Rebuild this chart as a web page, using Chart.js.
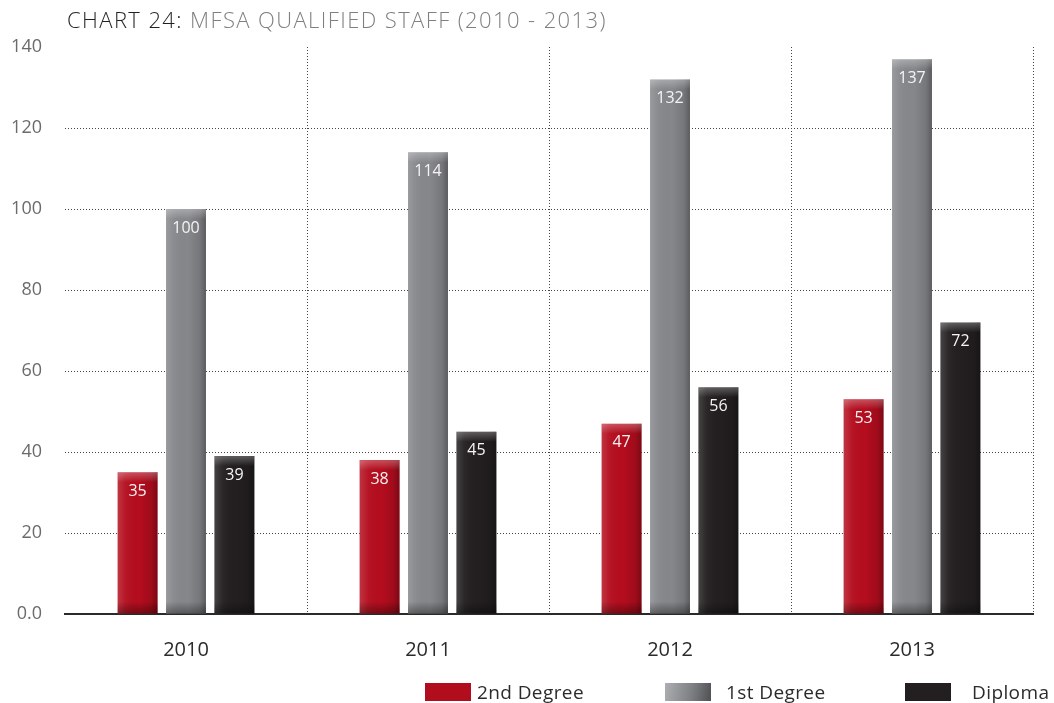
<!DOCTYPE html>
<html>
<head>
<meta charset="utf-8">
<script src="https://cdn.jsdelivr.net/npm/chart.js@4.4.1/dist/chart.umd.min.js"></script>
<style>
  body { margin: 0; background: #fff; font-family: "Open Sans", "Noto Sans", sans-serif; }
  .wrap { position: relative; width: 1054px; height: 703px; }
  .wrap canvas { position: absolute; left: 0; top: 0; }
  .title { position: absolute; left: 67px; top: 4px; font-size: 22px; font-weight: 300; letter-spacing: 1.4px; color: #7f7f81; white-space: nowrap; }
  .title b { font-weight: 300; color: #231f20; }
  .legend-item { position: absolute; top: 683px; height: 18px; font-size: 19px; font-weight: 400; letter-spacing: 0.4px; color: #2b2b2b; line-height: 18px; white-space: nowrap; }
  .legend-item i { position: absolute; left: 0; top: 0; width: 46px; height: 18px; }
  .legend-item span { position: absolute; top: 0; }
</style>
</head>
<body>
<div class="wrap">
  <canvas id="chart"></canvas>
  <div class="title"><b>CHART 24:</b> MFSA QUALIFIED STAFF (2010 - 2013)</div>
  <div class="legend-item" style="left:425px"><i style="background:#b20d1d"></i><span style="left:52px">2nd Degree</span></div>
  <div class="legend-item" style="left:665px"><i style="background:linear-gradient(100deg,#aeafb2,#7c7d81 60%,#4f5053)"></i><span style="left:61px">1st Degree</span></div>
  <div class="legend-item" style="left:905px"><i style="background:#231f20"></i><span style="left:67px">Diploma</span></div>
</div>
<script>
const years = ['2010', '2011', '2012', '2013'];
const secondDegree = [35, 38, 47, 53];
const firstDegree = [100, 114, 132, 137];
const diploma = [39, 45, 56, 72];
const yTicks = [0, 20, 40, 60, 80, 100, 120, 140];

Chart.defaults.font.family = '"Open Sans", "Noto Sans", sans-serif';

// soft bevel shading on top of each flat bar
const barShading = {
  id: 'barShading',
  afterDatasetsDraw(chart) {
    const ctx = chart.ctx;
    chart.data.datasets.forEach((ds, di) => {
      chart.getDatasetMeta(di).data.forEach(bar => {
        const { x, y, base, width } = bar.getProps(['x', 'y', 'base', 'width'], true);
        const x0 = x - width / 2, x1 = x + width / 2;
        ctx.save();
        let g = ctx.createLinearGradient(x0, 0, x1, 0);
        g.addColorStop(0, 'rgba(255,255,255,0.16)');
        g.addColorStop(0.2, 'rgba(255,255,255,0.04)');
        g.addColorStop(0.55, 'rgba(0,0,0,0)');
        g.addColorStop(0.85, 'rgba(0,0,0,0.12)');
        g.addColorStop(1, 'rgba(0,0,0,0.32)');
        ctx.fillStyle = g;
        ctx.fillRect(x0, y, width, base - y);
        g = ctx.createLinearGradient(0, y, 0, y + 10);
        g.addColorStop(0, 'rgba(255,255,255,0.28)');
        g.addColorStop(1, 'rgba(255,255,255,0)');
        ctx.fillStyle = g;
        ctx.fillRect(x0, y, width, 10);
        g = ctx.createLinearGradient(0, base - 12, 0, base);
        g.addColorStop(0, 'rgba(0,0,0,0)');
        g.addColorStop(1, 'rgba(0,0,0,0.35)');
        ctx.fillStyle = g;
        ctx.fillRect(x0, base - 12, width, 12);
        ctx.restore();
      });
    });
  }
};

// value printed inside the top of each bar
const barValues = {
  id: 'barValues',
  afterDatasetsDraw(chart) {
    const ctx = chart.ctx;
    ctx.save();
    ctx.fillStyle = '#f4f4f4';
    ctx.font = '16px "Open Sans", "Noto Sans", sans-serif';
    ctx.textAlign = 'center';
    ctx.textBaseline = 'middle';
    chart.data.datasets.forEach((ds, di) => {
      chart.getDatasetMeta(di).data.forEach((bar, i) => {
        ctx.fillText(String(ds.data[i]), bar.x, bar.y + 19);
      });
    });
    ctx.restore();
  }
};

new Chart(document.getElementById('chart'), {
  type: 'bar',
  data: {
    labels: years,
    datasets: [
      { label: '2nd Degree', data: secondDegree, backgroundColor: '#b40d1e' },
      { label: '1st Degree', data: firstDegree, backgroundColor: '#86878b' },
      { label: 'Diploma', data: diploma, backgroundColor: '#231f20' }
    ]
  },
  options: {
    responsive: true,
    maintainAspectRatio: false,
    animation: false,
    categoryPercentage: 0.6,
    barPercentage: 0.825,
    layout: { padding: { top: 47, right: 21, bottom: 33, left: 0 } },
    plugins: {
      legend: { display: false },
      tooltip: { enabled: false }
    },
    scales: {
      x: {
        afterFit(scale) { scale.height = 56; },
        grid: {
          offset: true,
          drawTicks: false,
          lineWidth: 1,
          color: ctx => (ctx.index === 0 || ctx.index === years.length) ? 'rgba(0,0,0,0)' : '#444',
        },
        border: { display: true, color: '#2a2a2a', width: 2, dash: [1, 2] },
        ticks: { padding: 24, color: '#2b2b2b', font: { size: 20, weight: 400 } }
      },
      y: {
        min: 0,
        max: 140,
        afterFit(scale) { scale.width = 65; },
        afterBuildTicks(scale) { scale.ticks = yTicks.map(v => ({ value: v })); },
        grid: {
          drawTicks: false,
          color: ctx => (ctx.tick && (ctx.tick.value === 0 || ctx.tick.value === 140)) ? 'rgba(0,0,0,0)' : '#444'
        },
        border: { display: false, dash: [1, 2] },
        ticks: {
          padding: 23,
          color: '#6b6b6b',
          font: { size: 18, weight: 400 },
          callback: v => v === 0 ? '0.0' : String(v)
        }
      }
    }
  },
  plugins: [barShading, barValues]
});
</script>
</body>
</html>
